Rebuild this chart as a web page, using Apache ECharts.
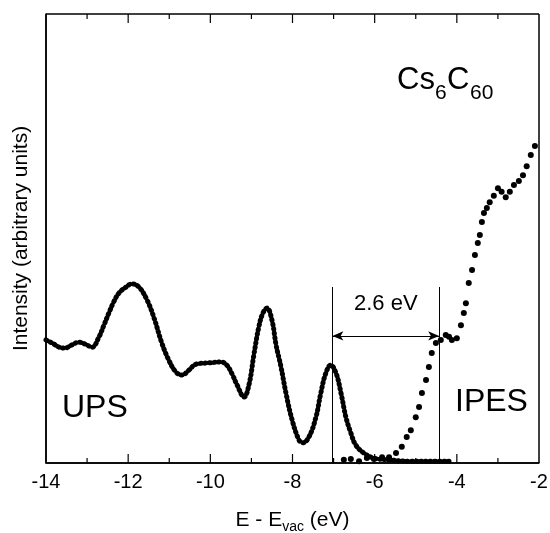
<!DOCTYPE html>
<html>
<head>
<meta charset="utf-8">
<script src="https://cdn.jsdelivr.net/npm/echarts@6/dist/echarts.min.js"></script>
<style>
  html, body { margin: 0; padding: 0; background: #fff; }
  #chart { width: 550px; height: 533px; }
</style>
</head>
<body>
<div id="chart"></div>
<script>
// Photoemission (UPS) spectrum of Cs6C60, energy relative to vacuum level (eV)
const upsEnergy = [
  -14.00, -13.81, -13.68, -13.54, -13.37, -13.20, -13.05, -12.88, -12.71, -12.59,
  -12.47, -12.35, -12.22, -12.05, -11.91, -11.74, -11.54, -11.37, -11.18, -11.01,
  -10.84, -10.69, -10.52, -10.35, -10.03, -9.74, -9.60, -9.47, -9.35, -9.18,
  -9.06, -8.94, -8.82, -8.72, -8.62, -8.50, -8.40, -8.28, -8.16, -8.01,
  -7.84, -7.75, -7.60, -7.43, -7.31, -7.19, -7.07, -6.94, -6.82, -6.70,
  -6.58, -6.46, -6.26, -6.02, -5.65, -5.17, -4.68, -4.19
];
const upsIntensity = [
  27.4, 26.5, 25.8, 25.6, 26.3, 26.9, 26.5, 25.8, 28.1, 30.7,
  33.4, 35.9, 37.9, 39.2, 39.9, 39.2, 36.3, 32.3, 26.7, 22.9,
  20.3, 19.6, 20.7, 22.0, 22.3, 22.5, 21.8, 19.8, 17.4, 14.7,
  17.4, 24.1, 30.3, 33.4, 34.5, 31.8, 26.3, 21.4, 15.6, 9.6,
  5.1, 4.5, 5.8, 10.2, 15.6, 20.0, 21.8, 20.0, 15.6, 10.2,
  6.7, 4.0, 2.2, 1.1, 0.7, 0.4, 0.4, 0.4
];

// Inverse photoemission (IPES) spectrum
const ipesEnergy = [
  -6.75, -6.58, -6.38, -6.19, -6.02, -5.82, -5.65, -5.48, -5.34, -5.22,
  -5.12, -5.00, -4.92, -4.85, -4.75, -4.68, -4.61, -4.51, -4.39, -4.27,
  -4.19, -4.12, -4.00, -3.90, -3.83, -3.78, -3.71, -3.63, -3.56, -3.49,
  -3.44, -3.39, -3.34, -3.27, -3.20, -3.10, -3.00, -2.91, -2.81, -2.71,
  -2.61, -2.49, -2.39, -2.30, -2.20, -2.10
];
const ipesIntensity = [
  0.7, 0.9, 0.4, 1.1, 0.9, 1.3, 1.3, 2.2, 3.6, 5.8,
  7.3, 10.2, 12.5, 15.6, 18.5, 21.4, 24.5, 26.7, 27.4, 28.5,
  28.1, 27.4, 27.8, 30.7, 33.4, 35.6, 40.1, 43.0, 46.3, 49.0,
  50.8, 53.7, 55.7, 56.8, 58.1, 59.5, 61.2, 60.4, 59.2, 60.4,
  61.9, 62.8, 64.1, 66.1, 68.6, 70.6
];

// Axis range, tick positions and the transport gap marked between the two onsets
const xMin = -14, xMax = -2, xStep = 2;
const yMin = 0, yMax = 100;
const xMajorTicks = [-12, -10, -8, -6, -4];
const xMinorTicks = [-13, -11, -9, -7, -5, -3];
const gapStart = -7.03;
const gapWidth = 2.6;
const gapMarkerTop = 39.2;
const gapArrowLevel = 28.3;
const gapLabelLevel = 35.4;

const FONT = '"Liberation Sans", Arial, Helvetica, sans-serif';
const ups = upsEnergy.map((e, i) => [e, upsIntensity[i]]);
const ipes = ipesEnergy.map((e, i) => [e, ipesIntensity[i]]);
const gapEnd = gapStart + gapWidth;

const MAJOR_LEN = 9, MINOR_LEN = 5;

// Closing frame edges (top, right) and inward ticks on the top and bottom edges
function renderFrame(params, api) {
  const lines = [];
  const seg = (a, b, w) => lines.push({
    type: 'line', silent: true,
    shape: { x1: a[0], y1: a[1], x2: b[0], y2: b[1] },
    style: { stroke: '#000', lineWidth: w, lineCap: 'butt' }
  });
  const tl = api.coord([xMin, yMax]);
  const tr = api.coord([xMax, yMax]);
  const br = api.coord([xMax, yMin]);
  const bl = api.coord([xMin, yMin]);
  seg(tl, tr, 1.5);
  seg(tr, br, 1.5);
  seg(bl, br, 1.5);
  seg(bl, tl, 1.5);
  const tick = (v, len) => {
    const b = api.coord([v, yMin]);
    const t = api.coord([v, yMax]);
    seg(b, [b[0], b[1] - len], 1.2);
    seg(t, [t[0], t[1] + len], 1.2);
  };
  xMajorTicks.forEach(v => tick(v, MAJOR_LEN));
  xMinorTicks.forEach(v => tick(v, MINOR_LEN));
  return { type: 'group', children: lines };
}

const chart = echarts.init(document.getElementById('chart'), null, { renderer: 'canvas' });

chart.setOption({
  animation: false,
  backgroundColor: '#fff',
  grid: { left: 46, right: 11, top: 14, bottom: 70, containLabel: false, outerBoundsMode: 'none' },
  xAxis: {
    type: 'value', min: xMin, max: xMax, interval: xStep,
    axisLine: { show: true, onZero: false, lineStyle: { color: '#000', width: 1.5 } },
    axisTick: { show: false },
    splitLine: { show: false },
    axisLabel: { color: '#000', fontSize: 20, fontFamily: FONT, margin: 9 },
    name: 'E - E{sub|vac} (eV)',
    nameLocation: 'middle',
    nameGap: 44,
    nameTextStyle: {
      color: '#000', fontSize: 21, fontFamily: FONT,
      rich: { sub: { fontSize: 14, fontFamily: FONT, color: '#000', padding: [13, 0, 0, 0] } }
    }
  },
  yAxis: {
    type: 'value', min: yMin, max: yMax,
    axisLine: { show: true, onZero: false, lineStyle: { color: '#000', width: 1.5 } },
    axisTick: { show: false }, axisLabel: { show: false },
    splitLine: { show: false },
    name: 'Intensity (arbitrary units)',
    nameLocation: 'middle', nameGap: 14,
    nameTextStyle: { color: '#000', fontSize: 21, fontFamily: FONT }
  },
  series: [
    {
      name: 'UPS',
      type: 'line',
      data: ups,
      smooth: 0.4,
      showSymbol: false,
      lineStyle: { color: '#000', width: 5, type: [1, 3.6], cap: 'round', opacity: 1 },
      silent: true,
      markLine: {
        silent: true, symbol: 'none',
        label: { show: false },
        lineStyle: { color: '#000', width: 1, type: 'solid', opacity: 1 },
        data: [
          [{ coord: [gapStart, yMin] }, { coord: [gapStart, gapMarkerTop] }],
          [{ coord: [gapEnd, yMin] }, { coord: [gapEnd, gapMarkerTop] }]
        ]
      }
    },
    {
      name: 'IPES',
      type: 'scatter',
      data: ipes,
      symbol: 'circle',
      symbolSize: 6,
      itemStyle: { color: '#000', opacity: 1 },
      silent: true,
      markLine: {
        silent: true,
        symbol: ['arrow', 'arrow'],
        symbolSize: [7, 11],
        label: { show: false },
        lineStyle: { color: '#000', width: 1, type: 'solid', opacity: 1 },
        data: [
          [{ coord: [gapStart, gapArrowLevel] }, { coord: [gapEnd, gapArrowLevel] }]
        ]
      }
    },
    {
      name: 'gap label',
      type: 'scatter',
      data: [[gapStart + gapWidth / 2, gapLabelLevel]],
      symbolSize: 0,
      silent: true,
      itemStyle: { opacity: 1 },
      label: {
        show: true, position: 'inside',
        formatter: () => gapWidth.toFixed(1) + ' eV',
        color: '#000', fontSize: 22, fontFamily: FONT
      }
    },
    {
      name: 'frame',
      type: 'custom',
      data: [[xMin, yMin]],
      renderItem: renderFrame,
      clip: false,
      silent: true,
      z: 10
    }
  ],
  graphic: [
    { type: 'text', left: 62, top: 392, silent: true,
      style: { text: 'UPS', fill: '#000', font: '32px ' + FONT } },
    { type: 'text', left: 455, top: 386, silent: true,
      style: { text: 'IPES', fill: '#000', font: '32px ' + FONT } },
    { type: 'text', x: 397, y: 80, silent: true,
      style: { text: 'Cs', fill: '#000', font: '31px ' + FONT, verticalAlign: 'middle' } },
    { type: 'text', x: 435, y: 93, silent: true,
      style: { text: '6', fill: '#000', font: '21px ' + FONT, verticalAlign: 'middle' } },
    { type: 'text', x: 447, y: 80, silent: true,
      style: { text: 'C', fill: '#000', font: '31px ' + FONT, verticalAlign: 'middle' } },
    { type: 'text', x: 470, y: 93, silent: true,
      style: { text: '60', fill: '#000', font: '21px ' + FONT, verticalAlign: 'middle' } }
  ]
});
</script>
</body>
</html>
